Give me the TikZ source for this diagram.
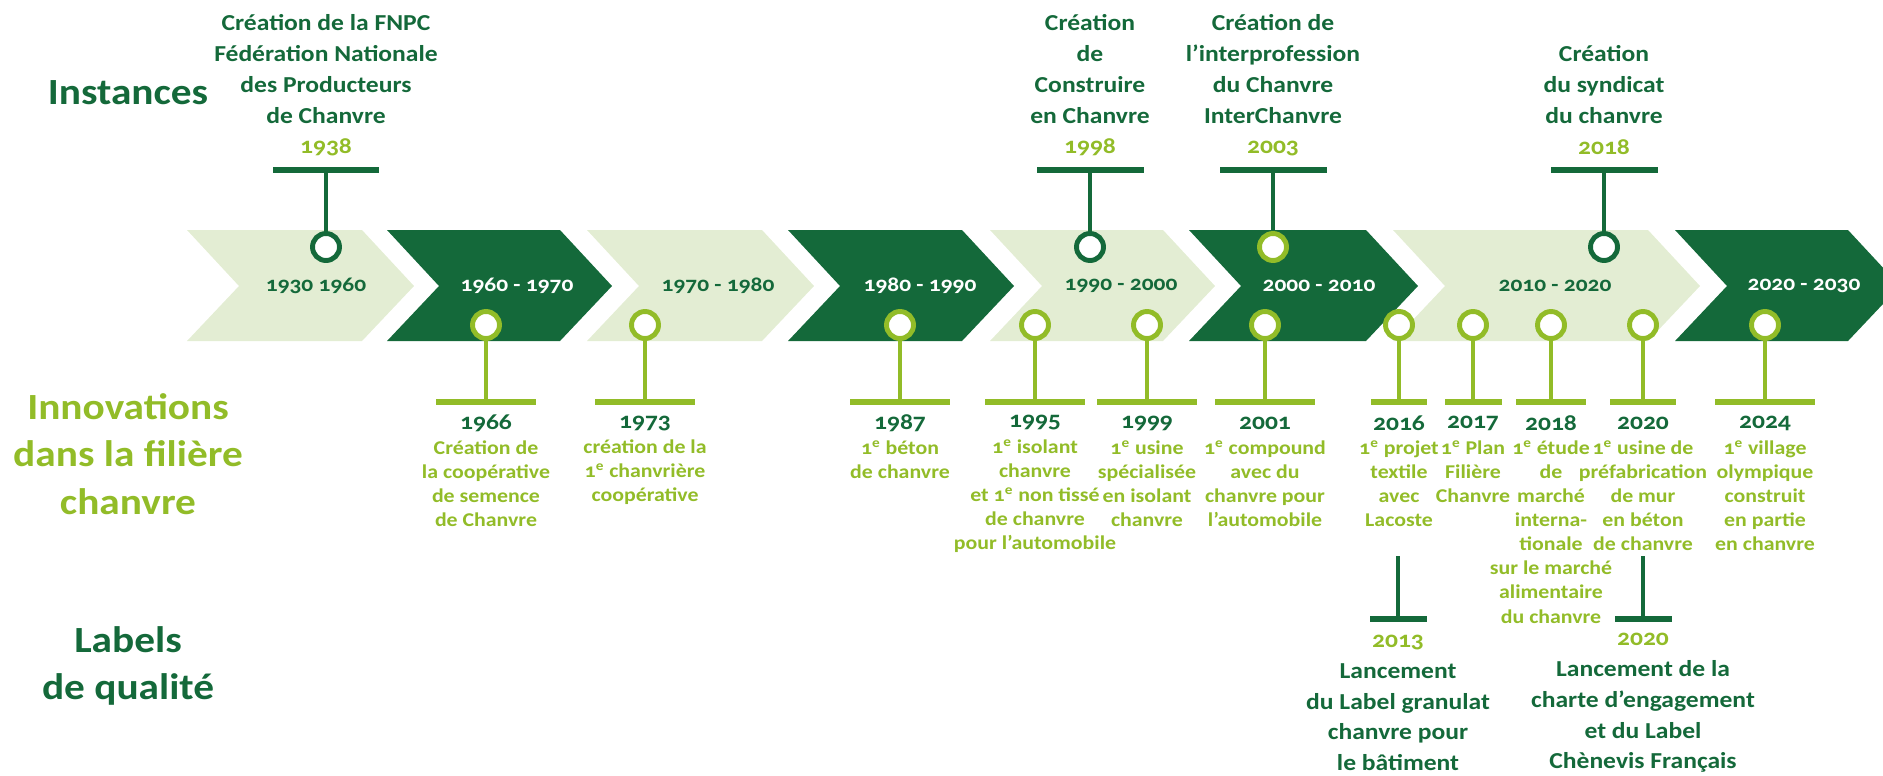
\documentclass[tikz,border=0pt]{standalone}
\usepackage{fontspec}
\setmainfont{Carlito}[FakeStretch=1.12, Numbers=OldStyle]
\definecolor{hempdark}{HTML}{14693A}
\definecolor{hemplime}{HTML}{92BC28}
\definecolor{hemppale}{HTML}{E3EDD3}
\newcommand{\prem}{1\textsuperscript{e}}

\begin{document}
\begin{tikzpicture}[x=0.02cm, y=-0.02cm,
    ring/.style={circle, draw=#1, line width=2.8pt, fill=white, minimum size=0.54cm, inner sep=0pt},
    bar/.style={fill=#1, minimum height=0.12cm, inner sep=0pt},
    stem/.style={draw=#1, line width=2.7pt},
    heading/.style={align=center, font=\bfseries\fontsize{21}{27}\selectfont},
    period/.style={font=\bfseries\fontsize{11.9}{14}\selectfont},
    event/.style={align=center, text=hempdark, font=\bfseries\fontsize{13}{17.5}\selectfont},
    yearlbl/.style={text=hempdark, font=\bfseries\fontsize{13}{15}\selectfont},
    innov/.style={align=center, text=hemplime, font=\bfseries\fontsize{11.1}{13.7}\selectfont}]
    \useasboundingbox (0,0) rectangle (1883,775);

    % chevrons
    \begin{scope}
        \clip (0,0) rectangle (1883,775);
        \foreach \l/\r/\fc/\tc/\cx/\lab [count=\i] in {187/362/hemppale/hempdark/316/{1930 1960},
            387/560/hempdark/white/517/{1960 - 1970}, 587/762/hemppale/hempdark/718/{1970 - 1980},
            788/962/hempdark/white/920/{1980 - 1990}, 990/1163/hemppale/hempdark/1121/{1990 - 2000},
            1189/1366/hempdark/white/1319/{2000 - 2010}, 1393/1648/hemppale/hempdark/1555/{2010 - 2020},
            1675/1848/hempdark/white/1804/{2020 - 2030}}{
                \fill[\fc] (\l,230) -- (\r,230) -- ++(52,56) -- (\r,341) -- (\l,341) -- ++(52,-55) -- cycle;
                \node[period, text=\tc] (per\i) at (\cx,286) {\lab};
            }
    \end{scope}

    \node[heading, text=hempdark] (hinst) at (128,93) {Instances};
    \node[heading, text=hemplime] (hinno) at (128,454) {Innovations\\dans la filière\\chanvre};
    \node[heading, text=hempdark] (hlab) at (128,666) {Labels\\de qualité};

    % instances
    \foreach \x/\yr/\rc/\yc/\txt in {326/1938/hempdark/85.5/{Création de la FNPC\\Fédération Nationale\\des Producteurs\\de Chanvre},
        1090/1998/hempdark/85.5/{Création\\de\\Construire\\en Chanvre},
        1273/2003/hemplime/85.5/{Création de\\l’interprofession\\du Chanvre\\InterChanvre},
        1604/2018/hempdark/100/{Création\\du syndicat\\du chanvre}}{
            \node[ring=\rc] (itr\yr) at (\x,247) {};
            \node[bar=hempdark, minimum width=2.14cm] (itb\yr) at (\x,170) {};
            \draw[stem=hempdark] (itr\yr) -- (itb\yr);
            \node[event] (itt\yr) at (\x,\yc) {\txt\\\textcolor{hemplime}{\yr}};
        }

    % innovations
    \foreach \x/\w/\yr/\n/\txt in {486/100/1966/4/{Création de\\la coopérative\\de semence\\de Chanvre},
        645/100/1973/3/{création de la\\\prem{} chanvrière\\coopérative},
        900/100/1987/2/{\prem{} béton\\de chanvre},
        1035/100/1995/5/{\prem{} isolant\\chanvre\\et \prem{} non tissé\\de chanvre\\pour l’automobile},
        1147/100/1999/4/{\prem{} usine\\spécialisée\\en isolant\\chanvre},
        1265/100/2001/4/{\prem{} compound\\avec du\\chanvre pour\\l’automobile},
        1399/56/2016/4/{\prem{} projet\\textile\\avec\\Lacoste},
        1473/57/2017/3/{\prem{} Plan\\Filière\\Chanvre},
        1551/70/2018/8/{\prem{} étude\\de\\marché\\interna-\\tionale\\sur le marché\\alimentaire\\du chanvre},
        1643/66/2020/5/{\prem{} usine de\\préfabrication\\de mur\\en béton\\de chanvre},
        1765/100/2024/5/{\prem{} village\\olympique\\construit\\en partie\\en chanvre}}{
            \node[ring=hemplime] (inr\yr) at (\x,325) {};
            \node[bar=hemplime, minimum width=\w*0.02cm] (inb\yr) at (\x,402) {};
            \draw[stem=hemplime] (inr\yr) -- (inb\yr);
            \node[yearlbl] (iny\yr) at (\x,423) {\yr};
            \node[innov] (int\yr) at (\x,{448+12*(\n-1)}) {\txt};
        }

    % labels de qualite
    \foreach \x/\yr/\txt in {1398/2013/{Lancement\\du Label granulat\\chanvre pour\\le bâtiment},
        1643/2020/{Lancement de la\\charte d’engagement\\et du Label\\Chènevis Français}}{
            \coordinate (lqs\yr) at (\x,556);
            \node[bar=hempdark, minimum width=1.14cm] (lqb\yr) at (\x,619) {};
            \draw[stem=hempdark] (lqs\yr) -- (lqb\yr);
            \node[event] (lqt\yr) at (\x,703) {\textcolor{hemplime}{\yr}\\\txt};
        }
\end{tikzpicture}
\end{document}
